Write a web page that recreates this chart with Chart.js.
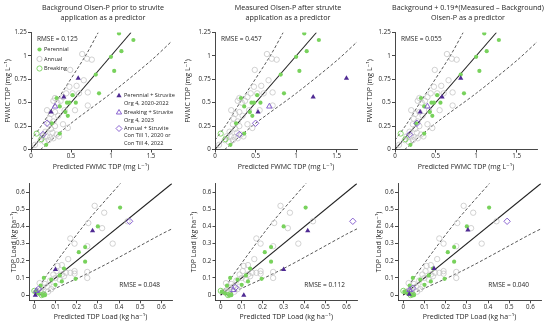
<!DOCTYPE html>
<html><head><meta charset="utf-8">
<script src="https://cdn.jsdelivr.net/npm/chart.js@4"></script>
<style>
html,body{margin:0;padding:0;background:#fff;}
#wrap{position:relative;width:546px;height:324px;overflow:hidden;background:#fff;}
canvas{position:absolute;}
</style></head><body><div id="wrap"></div>
<script>
// ---------- DATA ----------
const columnTitles = [
  ["Background Olsen-P prior to struvite", "application as a predictor"],
  ["Measured Olsen-P after struvite", "application as a predictor"],
  ["Background + 0.19*(Measured \u2013 Background)", "Olsen-P as a predictor"]
];
const rmseTop = ["RMSE = 0.125", "RMSE = 0.457", "RMSE = 0.055"];
const rmseBottom = ["RMSE = 0.048", "RMSE = 0.112", "RMSE = 0.040"];
const xTitleTop = "Predicted FWMC TDP (mg L\u207B\u00B9)";
const yTitleTop = "FWMC TDP (mg L\u207B\u00B9)";
const xTitleBottom = "Predicted TDP Load (kg ha\u207B\u00B9)";
const yTitleBottom = "TDP Load (kg ha\u207B\u00B9)";
const xTicksTop = [0, 0.5, 1, 1.5];
const yTicksTop = [0, 0.25, 0.5, 0.75, 1, 1.25];
const ticksBottom = [0, 0.1, 0.2, 0.3, 0.4, 0.5, 0.6];
const legendLeft = ["Perennial", "Annual", "Breaking"];
const legendRight = [
  ["Perennial + Struvite", "Org 4, 2020-2022"],
  ["Breaking + Struvite", "Org 4, 2023"],
  ["Annual + Struvite", "Con Till 1, 2020 or", "Con Till 4, 2022"]
];

// FWMC (top row) points shared by the three top panels
const perennialTop = [[1.10,1.24],[1.28,1.17],[1.13,1.05],[1.00,0.99],[1.04,0.84],[0.81,0.80],[0.85,0.60],
  [0.52,0.58],[0.32,0.55],[0.45,0.50],[0.48,0.50],[0.56,0.50],[0.36,0.46],[0.43,0.40],[0.46,0.36],
  [0.26,0.28],[0.36,0.17],[0.19,0.05]];
const annualTop = [[0.64,1.02],[0.70,0.97],[0.76,0.96],[0.49,0.85],[0.66,0.74],[0.57,0.68],[0.48,0.67],
  [0.71,0.61],[0.60,0.60],[0.52,0.60],[0.44,0.60],[0.40,0.56],[0.30,0.55],[0.28,0.52],[0.37,0.52],
  [0.33,0.50],[0.71,0.47],[0.55,0.42],[0.42,0.42],[0.20,0.42],[0.25,0.38],[0.30,0.40],[0.34,0.36],
  [0.23,0.33],[0.28,0.30],[0.22,0.27],[0.40,0.27],[0.30,0.25],[0.46,0.23],[0.25,0.22],[0.18,0.19],
  [0.27,0.18],[0.32,0.16],[0.20,0.14],[0.24,0.13],[0.14,0.14],[0.28,0.12],[0.12,0.10],[0.17,0.08],
  [0.05,0.05],[0.22,0.10],[0.35,0.14]];
const breakingTop = [[0.07,0.17],[0.13,0.11]];

// Struvite points, top row, per panel
const strPerennialTop = [[[0.59,0.76],[0.41,0.56],[0.25,0.40]], [[1.62,0.76],[1.21,0.56],[0.53,0.40]], [[0.81,0.76],[0.58,0.56],[0.31,0.40]]];
const strBreakingTop = [[[0.30,0.46]], [[0.67,0.46]], [[0.40,0.46]]];
const strAnnualTop = [[[0.20,0.28],[0.15,0.16]], [[0.50,0.28],[0.30,0.16]], [[0.27,0.28],[0.18,0.16]]];

// Load (bottom row) points shared by the three bottom panels
const perennialBot = [[0.405,0.51],[0.30,0.40],[0.24,0.28],[0.21,0.25],[0.24,0.195],[0.195,0.095],[0.13,0.08],
  [0.14,0.155],[0.10,0.06],[0.045,0.10],[0.03,0.055],[0.04,0.0],[0.05,0.0],[0.005,0.02],[0.02,0.01],
  [0.12,0.115],[0.08,0.09]];
const annualBot = [[0.285,0.52],[0.33,0.48],[0.255,0.42],[0.32,0.39],[0.44,0.43],[0.17,0.33],[0.19,0.30],
  [0.25,0.285],[0.37,0.30],[0.16,0.21],[0.13,0.175],[0.11,0.17],[0.105,0.14],[0.19,0.14],[0.19,0.125],
  [0.25,0.135],[0.25,0.10],[0.15,0.13],[0.13,0.12],[0.09,0.12],[0.10,0.10],[0.12,0.09],[0.075,0.085],
  [0.05,0.065],[0.06,0.05],[0.09,0.05],[0.04,0.045],[0.03,0.03],[0.08,0.035],[0.025,0.07],[0.015,0.02],
  [0.065,0.02],[0.035,0.01],[0.14,0.11],[0.17,0.13]];
const breakingBot = [[0.0,0.025],[0.035,0.0],[0.045,0.005]];

const strPerennialBot = [[[0.275,0.375],[0.10,0.15],[0.005,0.0]], [[0.415,0.375],[0.30,0.15],[0.11,0.0]], [[0.305,0.38],[0.145,0.155],[0.028,0.005]]];
const strBreakingBot = [[[0.01,0.025]], [[0.06,0.03]], [[0.03,0.03]]];
const strAnnualBot = [[[0.45,0.43],[0.02,0.035]], [[0.63,0.43],[0.07,0.045]], [[0.49,0.43],[0.045,0.04]]];

// Reference lines
const oneToOneTop = [[0,0],[1.25,1.25]];
const upperBandTop = [[0,0.1],[0.15,0.28],[0.3,0.49],[0.68,1.0],[0.84,1.25]];
const lowerBandTop = [[0.12,0],[0.5,0.28],[1.0,0.6],[1.5,0.95],[1.8,1.19]];
const oneToOneBot = [[0,0],[0.65,0.65]];
const upperBandBot = [[0,0.0],[0.05,0.1],[0.15,0.27],[0.25,0.43],[0.41,0.655]];
const lowerBandBot = [[0.02,0],[0.1,0.04],[0.3,0.155],[0.6,0.355],[0.66,0.392]];

// ---------- STYLE ----------
const FONT = "'Open Sans', 'DejaVu Sans', sans-serif";
const GREEN = '#78d25c';
const GRAY = '#c6c6c6';
const PURPLE = '#4f2a93';
const LPURPLE = '#7d52cc';
const AX = '#333';
const TXT = '#262626';

const toXY = arr => arr.map(p => ({x: p[0], y: p[1]}));

function drawMarker(ctx, style, x, y) {
  ctx.save();
  ctx.lineWidth = 0.9;
  if (style === 'perennial') { ctx.fillStyle = GREEN; ctx.beginPath(); ctx.arc(x, y, 2.1, 0, Math.PI*2); ctx.fill(); }
  else if (style === 'annual') { ctx.strokeStyle = GRAY; ctx.beginPath(); ctx.arc(x, y, 2.6, 0, Math.PI*2); ctx.stroke(); }
  else if (style === 'breaking') { ctx.strokeStyle = GREEN; ctx.beginPath(); ctx.arc(x, y, 2.6, 0, Math.PI*2); ctx.stroke(); }
  else if (style === 'triF' || style === 'triO') {
    const r = 3;
    ctx.beginPath(); ctx.moveTo(x, y - r); ctx.lineTo(x + r*0.87, y + r*0.5); ctx.lineTo(x - r*0.87, y + r*0.5); ctx.closePath();
    if (style === 'triF') { ctx.fillStyle = PURPLE; ctx.fill(); } else { ctx.strokeStyle = LPURPLE; ctx.stroke(); }
  } else if (style === 'dia') {
    const r = 3;
    ctx.strokeStyle = LPURPLE; ctx.beginPath(); ctx.moveTo(x, y - r); ctx.lineTo(x + r, y); ctx.lineTo(x, y + r); ctx.lineTo(x - r, y); ctx.closePath(); ctx.stroke();
  }
  ctx.restore();
}

const annot = {
  id: 'annot',
  afterDraw(chart, args, o) {
    const ctx = chart.ctx;
    const p = o.panel;
    const ox = p.cl, oy = p.ct;
    ctx.save();
    ctx.fillStyle = TXT;
    ctx.textBaseline = 'middle';
    if (p.title) {
      ctx.font = '7.2px ' + FONT; ctx.textAlign = 'center';
      const cx = (p.L + p.R) / 2 + 2 - ox;
      ctx.fillText(p.title[0], cx, 7.5 - oy);
      ctx.fillText(p.title[1], cx, 17.5 - oy);
    }
    ctx.font = '6.5px ' + FONT;
    if (p.row === 0) {
      ctx.textAlign = 'left';
      ctx.fillText(p.rmse, p.L + 6 - ox, 39.5 - oy);
    } else {
      ctx.textAlign = 'right';
      ctx.fillText(p.rmse, p.R - 12 - ox, 285 - oy);
    }
    if (p.legend) {
      ctx.font = '5.6px ' + FONT; ctx.textAlign = 'left';
      const ly = [49.5, 59, 68.5];
      const styles = ['perennial', 'annual', 'breaking'];
      legendLeft.forEach((t, i) => {
        drawMarker(ctx, styles[i], p.L + 8.5 - ox, ly[i] - oy);
        ctx.fillStyle = TXT;
        ctx.fillText(t, p.L + 13 - ox, ly[i] - oy);
      });
      const groups = [[95.7, 103.3], [112.5, 120], [128.5, 135.9, 143.2]];
      const rs = ['triF', 'triO', 'dia'];
      legendRight.forEach((g, i) => {
        drawMarker(ctx, rs[i], 119 - ox, groups[i][0] - oy);
        ctx.fillStyle = TXT;
        g.forEach((t, j) => ctx.fillText(t, 124 - ox, groups[i][j] - oy));
      });
    }
    ctx.restore();
  }
};

function scaleOpts(p, axis) {
  const isX = axis === 'x';
  const top = p.row === 0;
  return {
    type: 'linear',
    min: isX ? p.xmin : p.ymin,
    max: isX ? p.xmax : p.ymax,
    afterBuildTicks: s => { s.ticks = (isX ? p.xticks : p.yticks).map(v => ({value: v})); },
    afterFit: s => { if (isX) s.height = p.ct + p.ch - p.B; else s.width = p.L - p.cl; },
    ticks: { font: {family: FONT, size: 6.2}, color: TXT, padding: isX ? 0.5 : 1.2, maxRotation: 0, autoSkip: false,
             callback: v => String(v) },
    grid: { display: true, drawOnChartArea: false, drawTicks: true, tickLength: 3, color: AX, lineWidth: 0.9 },
    border: { display: true, color: AX, width: 0.9 },
    title: { display: true, text: isX ? (top ? xTitleTop : xTitleBottom) : (top ? yTitleTop : yTitleBottom),
             font: {family: FONT, size: 7}, color: TXT,
             padding: isX ? {top: 0, bottom: p.xtPad} : {top: p.ytPad, bottom: 0} }
  };
}

function pointSet(arr, style) {
  const base = { data: toXY(arr), showLine: false, order: 1 };
  if (style === 'perennial') return Object.assign(base, {pointStyle: 'circle', pointRadius: 2.1, backgroundColor: GREEN, borderColor: GREEN, borderWidth: 0});
  if (style === 'annual') return Object.assign(base, {pointStyle: 'circle', pointRadius: 2.7, backgroundColor: 'rgba(0,0,0,0)', borderColor: GRAY, borderWidth: 0.8});
  if (style === 'breaking') return Object.assign(base, {pointStyle: 'circle', pointRadius: 2.6, backgroundColor: 'rgba(0,0,0,0)', borderColor: GREEN, borderWidth: 0.9});
  if (style === 'triF') return Object.assign(base, {order: 0, pointStyle: 'triangle', pointRadius: 3, backgroundColor: PURPLE, borderColor: PURPLE, borderWidth: 0});
  if (style === 'triO') return Object.assign(base, {order: 0, pointStyle: 'triangle', pointRadius: 3.2, backgroundColor: 'rgba(0,0,0,0)', borderColor: LPURPLE, borderWidth: 0.9});
  if (style === 'dia') return Object.assign(base, {order: 0, pointStyle: 'rectRot', pointRadius: 3.2, backgroundColor: 'rgba(0,0,0,0)', borderColor: LPURPLE, borderWidth: 0.9});
}
function lineSet(arr, dashed) {
  return { type: 'line', data: toXY(arr), showLine: true, fill: false, pointRadius: 0, order: 5,
           borderColor: dashed ? '#444' : '#222', borderWidth: dashed ? 0.9 : 1.1,
           borderDash: dashed ? [3, 2] : [], tension: dashed ? 0.3 : 0 };
}

const wrap = document.getElementById('wrap');
function makePanel(p) {
  const c = document.createElement('canvas');
  c.width = p.cw; c.height = p.ch;
  c.style.left = p.cl + 'px'; c.style.top = p.ct + 'px';
  c.style.width = p.cw + 'px'; c.style.height = p.ch + 'px';
  wrap.appendChild(c);
  const datasets = p.row === 0 ? [
    pointSet(strPerennialTop[p.col], 'triF'), pointSet(strBreakingTop[p.col], 'triO'), pointSet(strAnnualTop[p.col], 'dia'),
    pointSet(perennialTop, 'perennial'), pointSet(breakingTop, 'breaking'), pointSet(annualTop, 'annual'),
    lineSet(oneToOneTop, false), lineSet(upperBandTop, true), lineSet(lowerBandTop, true)
  ] : [
    pointSet(strPerennialBot[p.col], 'triF'), pointSet(strBreakingBot[p.col], 'triO'), pointSet(strAnnualBot[p.col], 'dia'),
    pointSet(perennialBot, 'perennial'), pointSet(breakingBot, 'breaking'), pointSet(annualBot, 'annual'),
    lineSet(oneToOneBot, false), lineSet(upperBandBot, true), lineSet(lowerBandBot, true)
  ];
  new Chart(c, {
    type: 'scatter',
    data: { datasets },
    options: {
      responsive: false, animation: false, events: [], devicePixelRatio: 1,
      layout: { padding: { left: 0, right: (p.cl + p.cw) - p.R, top: p.T - p.ct, bottom: 0 } },
      plugins: { legend: { display: false }, tooltip: { enabled: false }, annot: { panel: p } },
      scales: { x: scaleOpts(p, 'x'), y: scaleOpts(p, 'y') }
    },
    plugins: [annot]
  });
}

const colStart = [0, 182, 364];
const colEnd = [182, 364, 546];
const topL = [31, 215, 395], topR = [171, 357, 537], topYT = [7.5, 187.5, 370];
const botL = [29, 215.5, 398], botR = [172, 357, 541], botYT = [13.5, 193.5, 378.5];
for (let i = 0; i < 3; i++) {
  makePanel({ row: 0, col: i, cl: colStart[i], ct: 0, cw: colEnd[i] - colStart[i], ch: 175,
    L: topL[i], R: topR[i], T: 32.5, B: 149.5, xmin: 0, xmax: 1.75, ymin: 0, ymax: 1.25,
    xticks: xTicksTop, yticks: yTicksTop, xtPad: 3.8, ytPad: topYT[i] - colStart[i] - 4.2,
    title: columnTitles[i], rmse: rmseTop[i], legend: i === 0 });
  makePanel({ row: 1, col: i, cl: colStart[i], ct: 175, cw: colEnd[i] - colStart[i], ch: 149,
    L: botL[i], R: botR[i], T: 183.5, B: 300.3, xmin: -0.025, xmax: 0.65, ymin: -0.03, ymax: 0.65,
    xticks: ticksBottom, yticks: ticksBottom, xtPad: 3.1, ytPad: botYT[i] - colStart[i] - 4.2,
    title: null, rmse: rmseBottom[i], legend: false });
}
</script>
</body></html>
